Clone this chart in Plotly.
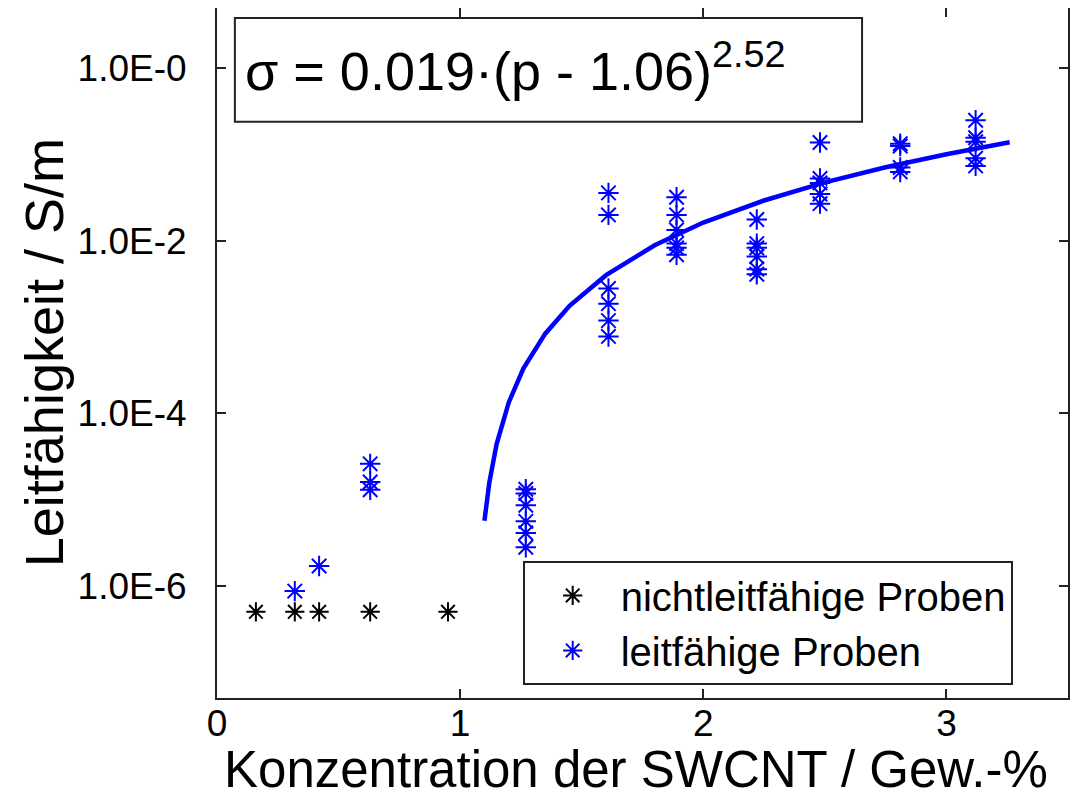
import plotly.graph_objects as go

# nicht leitfaehige Proben (unter Messgrenze)
black_x = [0.16, 0.32, 0.42, 0.63, 0.95]
black_y = [5e-7, 5e-7, 5e-7, 5e-7, 5e-7]

# leitfaehige Proben
blue_x = [0.32, 0.42,
          0.63, 0.63, 0.63,
          1.27, 1.27, 1.27, 1.27, 1.27, 1.27,
          1.61, 1.61, 1.61, 1.61, 1.61, 1.61,
          1.89, 1.89, 1.89, 1.89, 1.89, 1.89,
          2.22, 2.22, 2.22, 2.22, 2.22, 2.22,
          2.48, 2.48, 2.48, 2.48, 2.48,
          2.81, 2.81, 2.81, 2.81,
          3.12, 3.12, 3.12, 3.12, 3.12]
blue_y = [8.7e-7, 1.7e-6,
          2.6e-5, 1.6e-5, 1.3e-5,
          1.32e-5, 1.18e-5, 8.6e-6, 5.6e-6, 4.1e-6, 2.8e-6,
          0.036, 0.020, 2.8e-3, 1.87e-3, 1.19e-3, 7.8e-4,
          0.032, 0.020, 0.0134, 9.3e-3, 8.3e-3, 6.9e-3,
          0.0177, 9.3e-3, 8.3e-3, 6.6e-3, 4.7e-3, 4.1e-3,
          0.138, 0.053, 0.047, 0.035, 0.027,
          0.134, 0.126, 0.071, 0.063,
          0.25, 0.157, 0.141, 0.091, 0.074]

# Fitkurve
fit_x = [1.10, 1.12, 1.15, 1.20, 1.26, 1.35, 1.45, 1.60, 1.80, 2.00, 2.25, 2.50, 2.75, 3.00, 3.26]
fit_y = [5.7e-6, 1.58e-5, 4.4e-5, 1.34e-4, 3.3e-4, 8.4e-4, 1.77e-3, 4.0e-3, 8.9e-3,
         0.0163, 0.0294, 0.0476, 0.0713, 0.101, 0.139]

x_ticks = [0, 1, 2, 3]
x_ticktext = ['0', '1', '2', '3']
y_ticks = [1, 1e-2, 1e-4, 1e-6]
y_ticktext = ['1.0E-0', '1.0E-2', '1.0E-4', '1.0E-6']

FONT = 'Arial, Liberation Sans, sans-serif'

fig = go.Figure()
fig.add_trace(go.Scatter(x=fit_x, y=fit_y, mode='lines', showlegend=False,
                         line=dict(color='#0000ff', width=4.5)))
fig.add_trace(go.Scatter(x=black_x, y=black_y, mode='markers', name='nichtleitfähige Proben',
                         marker=dict(symbol='asterisk-open', size=16, color='black',
                                     line=dict(color='black', width=2))))
fig.add_trace(go.Scatter(x=blue_x, y=blue_y, mode='markers', name='leitfähige Proben',
                         marker=dict(symbol='asterisk-open', size=17, color='#0000ff',
                                     line=dict(color='#0000ff', width=2))))

axis_style = dict(showline=True, linecolor='#222', linewidth=2, mirror='allticks',
                  ticks='inside', ticklen=9, tickwidth=1.5, tickcolor='#222',
                  showgrid=False, zeroline=False, automargin=False,
                  tickfont=dict(family=FONT, size=37, color='black'))

fig.update_xaxes(range=[0, 3.5], tickmode='array', tickvals=x_ticks, ticktext=x_ticktext,
                 ticklabelstandoff=-8, **axis_style)
fig.update_yaxes(type='log', range=[-7.3, 0.7], tickmode='array', tickvals=y_ticks,
                 ticktext=y_ticktext, ticklabelstandoff=21, **axis_style)

# Achsentitel
fig.add_annotation(xref='paper', yref='paper', x=0.492, y=-0.104, xanchor='center', yanchor='middle',
                   showarrow=False, text='Konzentration der SWCNT / Gew.-%',
                   font=dict(family=FONT, size=51, color='black'))
fig.add_annotation(xref='paper', yref='paper', x=-0.203, y=0.5, xanchor='center', yanchor='middle',
                   showarrow=False, textangle=-90, text='Leitfähigkeit / S/m',
                   font=dict(family=FONT, size=54, color='black'))

# Fit-Gleichung im Kasten
fig.add_shape(type='rect', xref='paper', yref='paper', x0=0.021, x1=0.758, y0=0.835, y1=0.9855,
              line=dict(color='#222', width=2), fillcolor='white', layer='above')
fig.add_annotation(xref='paper', yref='paper', x=0.031, y=0.914, xanchor='left', yanchor='middle',
                   showarrow=False, text='σ = 0.019·(p - 1.06)<sup>2.52</sup>',
                   font=dict(family=FONT, size=54, color='black'))

fig.update_layout(
    width=1075, height=794,
    margin=dict(l=209, r=15, t=0, b=104),
    paper_bgcolor='white', plot_bgcolor='white',
    font=dict(family=FONT, color='black'),
    legend=dict(x=0.935, y=0.019, xanchor='right', yanchor='bottom',
                bgcolor='white', bordercolor='#222', borderwidth=2,
                font=dict(family=FONT, size=40, color='black'),
                itemwidth=86, tracegroupgap=0),
)

fig.write_html('out.html')
